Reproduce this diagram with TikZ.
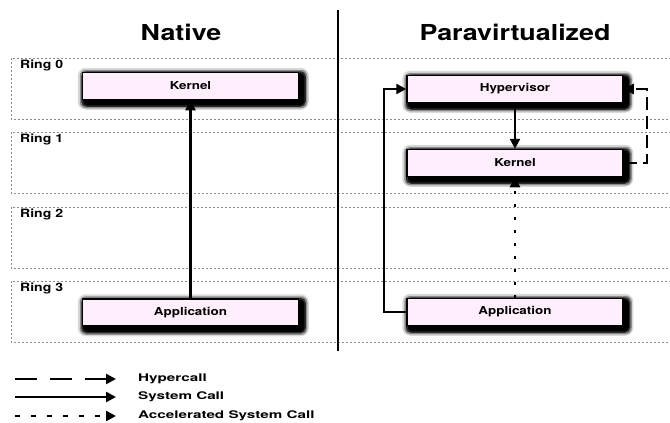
\documentclass[tikz,border=0pt]{standalone}
\usepackage{fontspec}
\setmainfont{TeX Gyre Heros}
\usetikzlibrary{arrows.meta,backgrounds}
\definecolor{boxfill}{RGB}{255,238,252}
\definecolor{ringline}{RGB}{140,140,140}
% wide lettering used for every label
\newcommand\widetxt[2][1.22]{\scalebox{#1}[1]{#2}}
% soft dark shadow behind a named box, built from stacked translucent layers
\newcommand\boxshadow[1]{%
  \fill[black,opacity=0.15,rounded corners=8pt]
    ([shift={(-4,-4)}]#1.north west) rectangle ([shift={(9.5,9.5)}]#1.south east);
  \fill[black,opacity=0.35,rounded corners=6pt]
    ([shift={(-2,-2)}]#1.north west) rectangle ([shift={(8,8)}]#1.south east);
  \fill[black,opacity=0.7,rounded corners=5pt]
    ([shift={(-0.5,-0.5)}]#1.north west) rectangle ([shift={(6.5,6.5)}]#1.south east);
  \fill[black,rounded corners=4pt]
    ([shift={(1.5,1.5)}]#1.north west) rectangle ([shift={(5,5)}]#1.south east);
}
\tikzset{
  ring/.style={draw=ringline,line width=0.8pt,dash pattern=on 2pt off 2pt},
  ringlabel/.style={anchor=north west,font=\bfseries\fontsize{11.5}{13}\selectfont,inner sep=0pt},
  title/.style={font=\bfseries\fontsize{22}{26}\selectfont,inner sep=0pt},
  level/.style={draw=black,line width=1.5pt,fill=boxfill,minimum width=216pt,minimum height=27pt,
    inner sep=0pt,font=\bfseries\fontsize{11}{13}\selectfont},
  tip/.style={-{Triangle[length=10pt,width=10pt]}},
  syscall/.style={tip,line width=2.4pt},
  hypercall/.style={tip,line width=2.4pt,dash pattern=on 13pt off 6pt},
  accelcall/.style={tip,line width=2.6pt,dash pattern=on 2.5pt off 10.5pt},
  legendtext/.style={anchor=west,inner sep=0pt,font=\bfseries\fontsize{10.5}{12}\selectfont}
}

\begin{document}

\begin{tikzpicture}[x=1pt,y=-1pt]
\useasboundingbox (0,0) rectangle (670,423);

% privilege rings
\draw[ring] (11,58) rectangle (676,119);
\draw[ring] (11,132) rectangle (676,193);
\draw[ring] (11,207) rectangle (676,268);
\draw[ring] (11,281) rectangle (676,342);
\node[ringlabel] (r0) at (20,60) {\widetxt{Ring 0}};
\node[ringlabel] (r1) at (20,134) {\widetxt{Ring 1}};
\node[ringlabel] (r2) at (20,209) {\widetxt{Ring 2}};
\node[ringlabel] (r3) at (20,283) {\widetxt{Ring 3}};

% column headings and divider
\node[title] (tnative) at (181,32) {\widetxt{Native}};
\node[title] (tpara) at (515,32) {\widetxt{Paravirtualized}};
\coordinate (dtop) at (338,10);
\coordinate (dbot) at (338,351);
\draw[line width=2pt] (dtop) -- (dbot);

% native system
\node[level] (nkern) at (190.5,86) {\widetxt{Kernel}};
\node[level] (napp) at (190.5,312.5) {\widetxt{Application}};
\draw[syscall] (napp) -- (nkern);

% paravirtualized system
\node[level] (hyp) at (515,89) {\widetxt{Hypervisor}};
\node[level] (pkern) at (515,163) {\widetxt{Kernel}};
\node[level] (papp) at (515,312) {\widetxt{Application}};
\draw[syscall] (hyp) -- (pkern);
\draw[accelcall] (papp) -- (pkern);
\draw[syscall] (papp.west) -- ++(-22,0) |- (hyp.west);
\draw[hypercall] (pkern.east) -- ++(23,0) |- (hyp.east);

% shadows behind the boxes
\begin{scope}[on background layer]
  \boxshadow{nkern}
  \boxshadow{napp}
  \boxshadow{hyp}
  \boxshadow{pkern}
  \boxshadow{papp}
\end{scope}

% legend
\coordinate (la1) at (15,379);
\coordinate (lb1) at (116,379);
\coordinate (la2) at (15,397);
\coordinate (lb2) at (116,397);
\coordinate (la3) at (15,416);
\coordinate (lb3) at (116,416);
\draw[tip,line width=2.4pt,dash pattern=on 22pt off 13pt] (la1) -- (lb1);
\draw[syscall] (la2) -- (lb2);
\draw[tip,line width=2.4pt,dash pattern=on 5pt off 11pt] (la3) -- (lb3);
\node[legendtext] (l1) at (138,379) {\widetxt[1.45]{Hypercall}};
\node[legendtext] (l2) at (138,397) {\widetxt[1.45]{System Call}};
\node[legendtext] (l3) at (138,416) {\widetxt[1.45]{Accelerated System Call}};
\end{tikzpicture}

\end{document}
